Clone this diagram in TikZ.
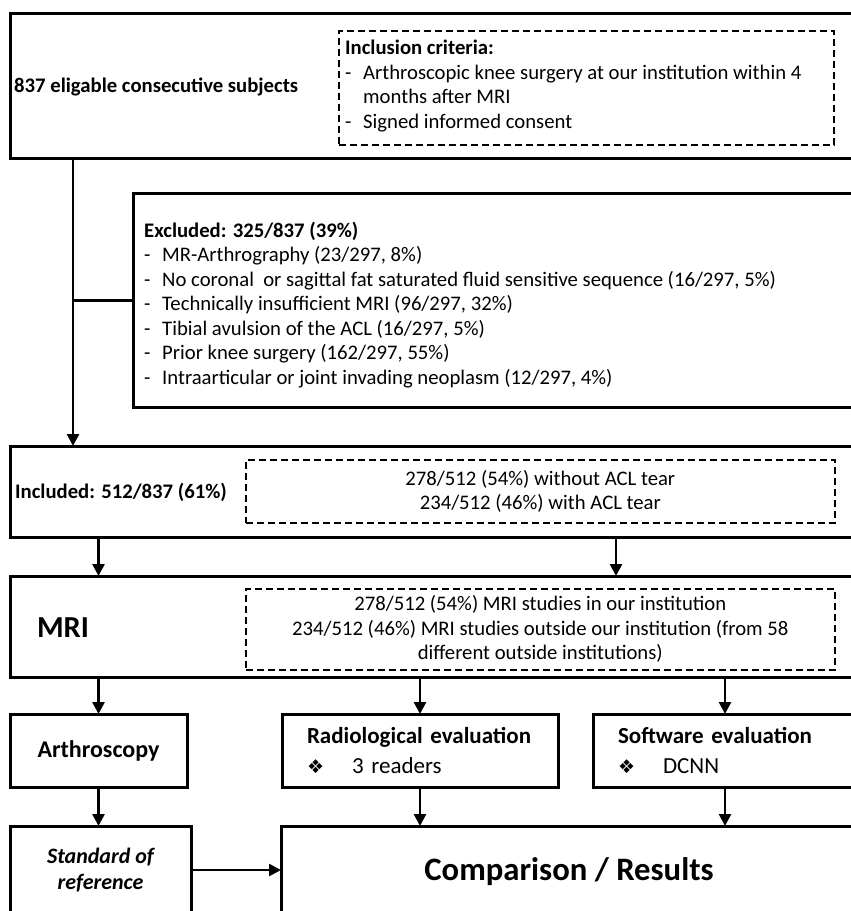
\documentclass[tikz,border=0pt]{standalone}
\usepackage{fontspec}
\setmainfont{Carlito}
\newfontfamily\symfont{DejaVu Sans}
\usetikzlibrary{arrows.meta,positioning,calc}
\newcommand\bodysize{\fontsize{20.7pt}{24.5pt}\selectfont}
\newcommand\headsize{\fontsize{23pt}{30pt}\selectfont}
\newcommand\itemrow[1]{\makebox[18pt][l]{-}#1}
\newcommand\bullitem[1]{\makebox[45pt][l]{\symfont\fontsize{19pt}{19pt}\selectfont ❖}#1}
\tikzset{frame/.style={draw,line width=3pt,anchor=north west,inner sep=0pt,outer sep=0pt}, dbox/.style={draw,line width=1.6pt,dash pattern=on 7pt off 4pt,anchor=north west,inner sep=0pt,font=\bodysize,align=center}, txt/.style={inner sep=0pt,font=\bodysize,align=left}, flow/.style={-{Triangle[length=12pt,width=12pt]},line width=2.6pt}, link/.style={line width=3pt}}

\begin{document}
\begin{tikzpicture}[x=1pt,y=-1pt]
\useasboundingbox (0,0) rectangle (851,911);
\clip (0,0) rectangle (851,911);
\node[frame,minimum width=860pt,minimum height=145pt] (elig) at (10,13) {};
\node[txt,font=\bodysize\bfseries,anchor=west] (eligtxt) at (14,87) {837 eligable consecutive subjects};
\node[dbox,minimum width=495pt,minimum height=114pt] (incl) at (338,30) {};
\node[txt,anchor=west] (incltxt) at (345,86) {\textbf{Inclusion criteria:}\\\itemrow{Arthroscopic knee surgery at our institution within 4}\\\hspace*{18pt}months after MRI\\\itemrow{Signed informed consent}};
\node[frame,minimum width=737pt,minimum height=214pt] (excl) at (133,193) {};
\node[txt,anchor=west] (excltxt) at (144,305) {\textbf{Excluded: 325/837 (39\%)}\\\itemrow{MR-Arthrography (23/297, 8\%)}\\\itemrow{No coronal\ \ or sagittal fat saturated fluid sensitive sequence (16/297, 5\%)}\\\itemrow{Technically insufficient MRI (96/297, 32\%)}\\\itemrow{Tibial avulsion of the ACL (16/297, 5\%)}\\\itemrow{Prior knee surgery (162/297, 55\%)}\\\itemrow{Intraarticular or joint invading neoplasm (12/297, 4\%)}};
\node[frame,minimum width=860pt,minimum height=91pt] (inc) at (10,446) {};
\node[txt,font=\bodysize\bfseries,anchor=west] (inctxt) at (15,492) {Included: 512/837 (61\%)};
\node[dbox,minimum width=589pt,minimum height=63pt] (incsplit) at (245,459) {278/512 (54\%) without ACL tear\\234/512 (46\%) with ACL tear};
\node[frame,minimum width=860pt,minimum height=101pt] (mri) at (10,576) {};
\node[inner sep=0pt,font=\fontsize{30.5pt}{30.5pt}\selectfont\bfseries] (mritxt) at (63,628) {MRI};
\node[dbox,minimum width=589pt,minimum height=81pt] (mrisplit) at (245,588) {278/512 (54\%) MRI studies in our institution\\234/512 (46\%) MRI studies outside our institution (from 58\\different outside institutions)};
\node[frame,minimum width=177pt,minimum height=73pt,font=\fontsize{24pt}{24pt}\selectfont\bfseries] (arth) at (10,714) {Arthroscopy};
\node[frame,minimum height=73pt,inner xsep=25pt,text width=226pt,align=left,font=\headsize] (rad) at (282,714) {\textbf{Radiological evaluation}\\\bullitem{3 readers}};
\node[frame,minimum height=73pt,inner xsep=25pt,text width=214pt,align=left,font=\headsize] (soft) at (593,714) {\textbf{Software evaluation}\\\bullitem{DCNN}};
\node[frame,minimum width=181pt,minimum height=88pt,align=center,font=\fontsize{22pt}{26pt}\selectfont\bfseries\itshape] (sor) at (10,826) {Standard of\\reference};
\node[frame,minimum width=576pt,minimum height=92pt,font=\fontsize{32.7pt}{32.7pt}\selectfont\bfseries] (cmp) at (281,826) {Comparison / Results};
\coordinate (t) at (73,0);\coordinate (s) at (616,0);
\draw[flow] (t |- elig.south) -- (t |- inc.north);\draw[link] (t |- excl.west) -- (excl.west);
\draw[flow] (inc.south -| arth.north) -- (mri.north -| arth.north);\draw[flow] (s |- inc.south) -- (s |- mri.north);
\draw[flow] (mri.south -| arth.north) -- (arth.north);\draw[flow] (mri.south -| rad.north) -- (rad.north);\draw[flow] (mri.south -| soft.north) -- (soft.north);
\draw[flow] (arth.south) -- (arth.south |- sor.north);\draw[flow] (rad.south) -- (rad.south |- cmp.north);\draw[flow] (soft.south) -- (soft.south |- cmp.north);
\draw[flow] (sor.east) -- (sor.east -| cmp.west);
\end{tikzpicture}
\end{document}
